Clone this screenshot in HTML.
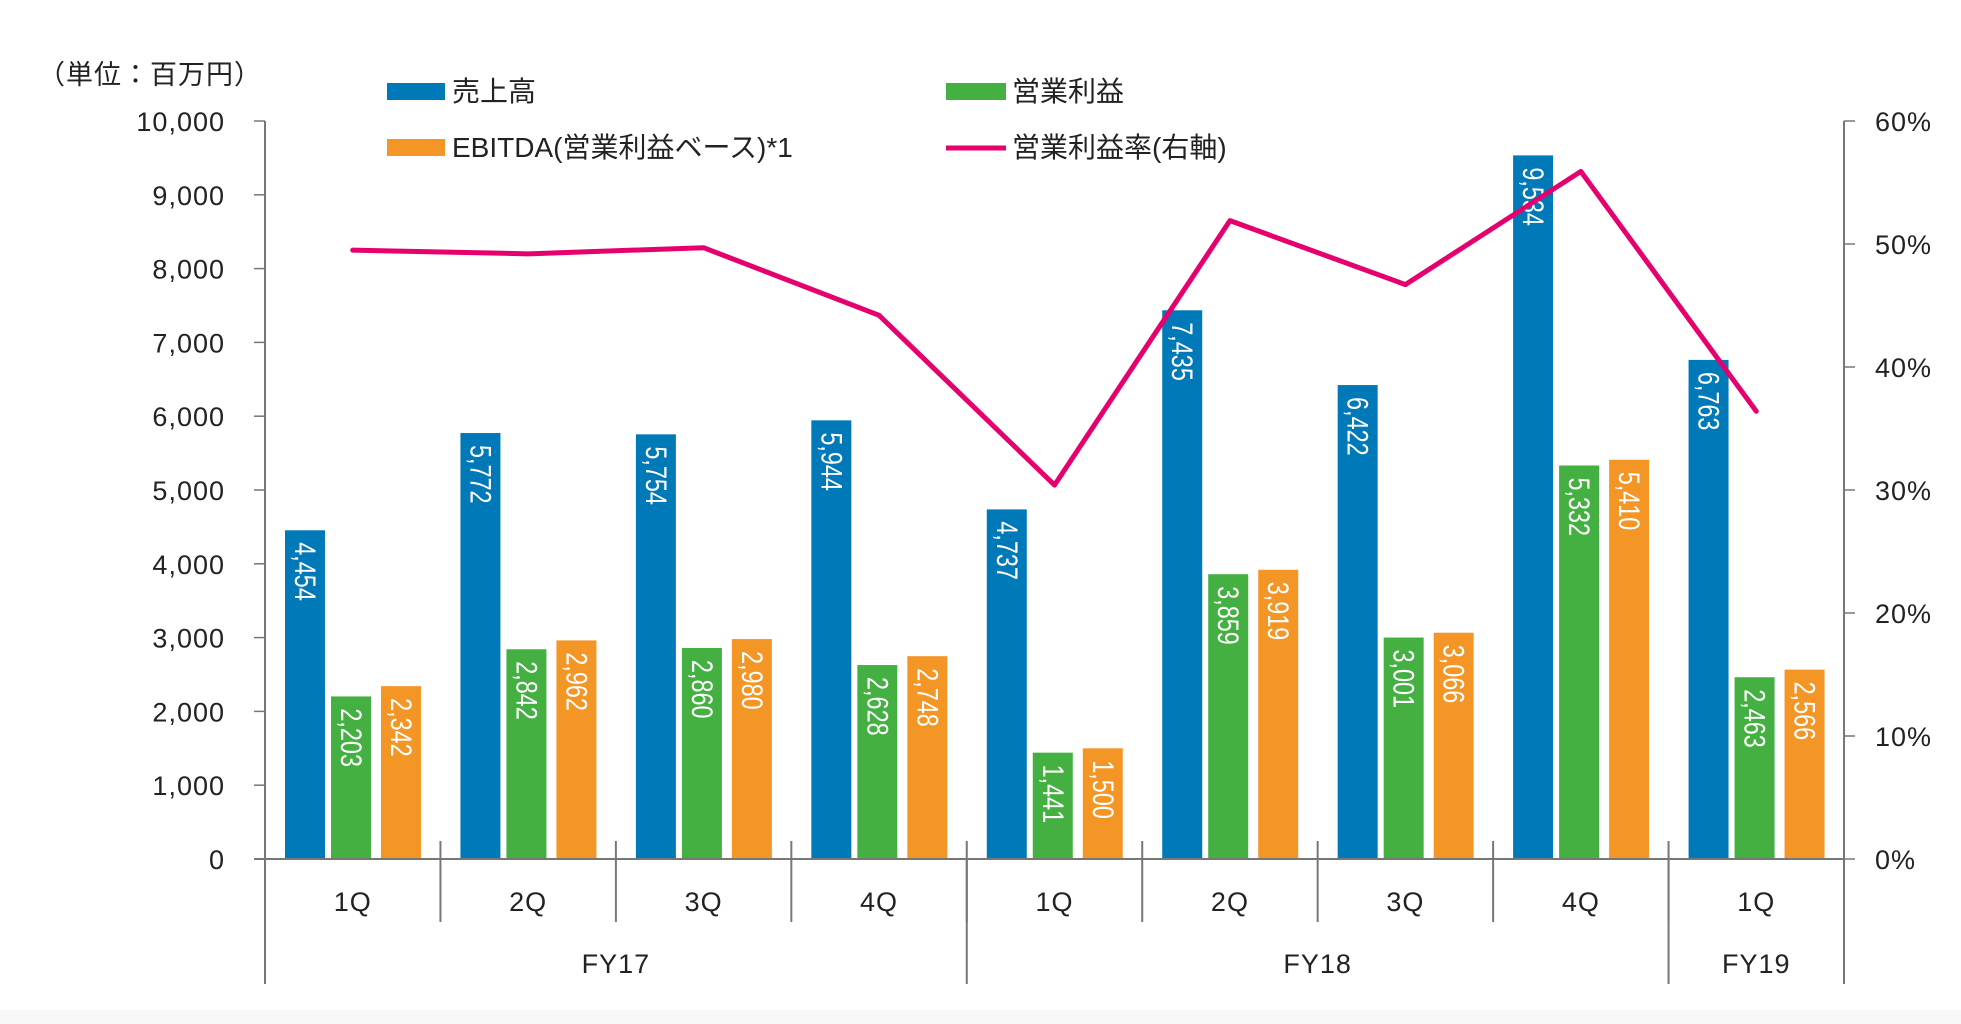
<!DOCTYPE html>
<html><head><meta charset="utf-8"><style>
html,body{margin:0;padding:0;background:#fff;}
svg{display:block;font-family:"Liberation Sans","Noto Sans CJK JP",sans-serif;}
</style></head><body>
<svg id="chart" width="1961" height="1024" viewBox="0 0 1961 1024">
<rect x="0" y="1010" width="1961" height="14" fill="#f8f8f8"/>
<text x="38" y="84" font-size="27" fill="#222" letter-spacing="1">（単位：百万円）</text>
<g>
<rect x="387" y="83" width="58" height="17" fill="#0079b8"/>
<text x="452" y="101" font-size="28" fill="#222">売上高</text>
<rect x="946" y="83" width="60" height="17" fill="#43b041"/>
<text x="1012" y="101" font-size="28" fill="#222">営業利益</text>
<rect x="387" y="139" width="58" height="17" fill="#f39626"/>
<text x="452" y="157" font-size="28" fill="#222">EBITDA(営業利益ベース)*1</text>
<line x1="946" y1="148" x2="1006" y2="148" stroke="#e5006e" stroke-width="5"/>
<text x="1012" y="157" font-size="28" fill="#222">営業利益率(右軸)</text>
</g>
<g id="marks"></g>
</svg>
<script>
const categories=["1Q","2Q","3Q","4Q","1Q","2Q","3Q","4Q","1Q"];
const years=["FY17","FY18","FY19"];
const yearSpans=[4,4,1];
const sales=[4454,5772,5754,5944,4737,7435,6422,9534,6763];
const opProfit=[2203,2842,2860,2628,1441,3859,3001,5332,2463];
const ebitda=[2342,2962,2980,2748,1500,3919,3066,5410,2566];
const marginPct=[49.5,49.2,49.7,44.2,30.4,51.9,46.7,55.9,36.4];
const leftTicks=[0,1000,2000,3000,4000,5000,6000,7000,8000,9000,10000];
const rightTicks=[0,10,20,30,40,50,60];

const NS="http://www.w3.org/2000/svg";
const g=document.getElementById("marks");
const X0=265,X1=1844,Y0=859,Y1=121;
const cw=(X1-X0)/categories.length;
const yL=v=>Y0-(v/10000)*(Y0-Y1);
const yR=v=>Y0-(v/60)*(Y0-Y1);
const xC=i=>X0+cw*(i+0.5);
function el(t,a,txt){const e=document.createElementNS(NS,t);for(const k in a)e.setAttribute(k,a[k]);if(txt!==undefined)e.textContent=txt;g.appendChild(e);return e;}
const fmt=v=>v.toLocaleString("en-US");

leftTicks.forEach(v=>{
  const l=el("line",{x1:254,x2:X0,y1:yL(v),y2:yL(v),stroke:"#777","stroke-width":1.5});
  
  
  const t=el("text",{x:225,y:yL(v)+10,"font-size":27,"letter-spacing":1,"text-anchor":"end",fill:"#222"},fmt(v));
  
  
});
rightTicks.forEach(v=>{
  const l=el("line",{x1:X1,x2:X1+11,y1:yR(v),y2:yR(v),stroke:"#777","stroke-width":1.5});
  
  
  const t=el("text",{x:1875,y:yR(v)+10,"font-size":27,"letter-spacing":1,fill:"#222"},v+"%");
  
  
});

const series=[[sales,"#0079b8",20,"sales-bar"],[opProfit,"#43b041",66,"op-profit-bar"],[ebitda,"#f39626",116,"ebitda-bar"]];
series.forEach(([arr,col,off,name])=>{
  arr.forEach((v,i)=>{
    const x=X0+cw*i+off;
    const r=el("rect",{x:x,y:yL(v),width:40,height:Y0-yL(v),fill:col});
    
    
    const tx=x+10,ty=yL(v)+12;
    const t=el("text",{x:0,y:0,"font-size":30,fill:"#fff",transform:`translate(${tx} ${ty}) rotate(90) scale(0.78 1)`},fmt(v));
    
    
  });
});

[[X0,Y1,X0,984,"left-axis"],[X1,Y1,X1,984,"right-axis"],[254,Y0,X1,Y0,"x-axis"]].forEach(a=>{
  const l=el("line",{x1:a[0],y1:a[1],x2:a[2],y2:a[3],stroke:"#777","stroke-width":2});
  
  
});
for(let i=1;i<categories.length;i++){
  const l=el("line",{x1:X0+cw*i,x2:X0+cw*i,y1:Y0-18,y2:922,stroke:"#777","stroke-width":2});
  
  
}
categories.forEach((c,i)=>{
  const t=el("text",{x:xC(i),y:911,"font-size":27,"letter-spacing":1,"text-anchor":"middle",fill:"#222"},c);
  
  
});
let start=0;
years.forEach((y,j)=>{
  const s=start,e=start+yearSpans[j];
  if(s>0){
    const l=el("line",{x1:X0+cw*s,x2:X0+cw*s,y1:Y0,y2:984,stroke:"#777","stroke-width":2});
    
    
  }
  const t=el("text",{x:X0+cw*(s+e)/2,y:973,"font-size":27,"letter-spacing":1,"text-anchor":"middle",fill:"#222"},y);
  
  
  start=e;
});

const pts=marginPct.map((v,i)=>xC(i)+","+yR(v)).join(" ");
const pl=el("polyline",{points:pts,fill:"none",stroke:"#e5006e","stroke-width":5,"stroke-linejoin":"round","stroke-linecap":"round"});


</script>
</body></html>
